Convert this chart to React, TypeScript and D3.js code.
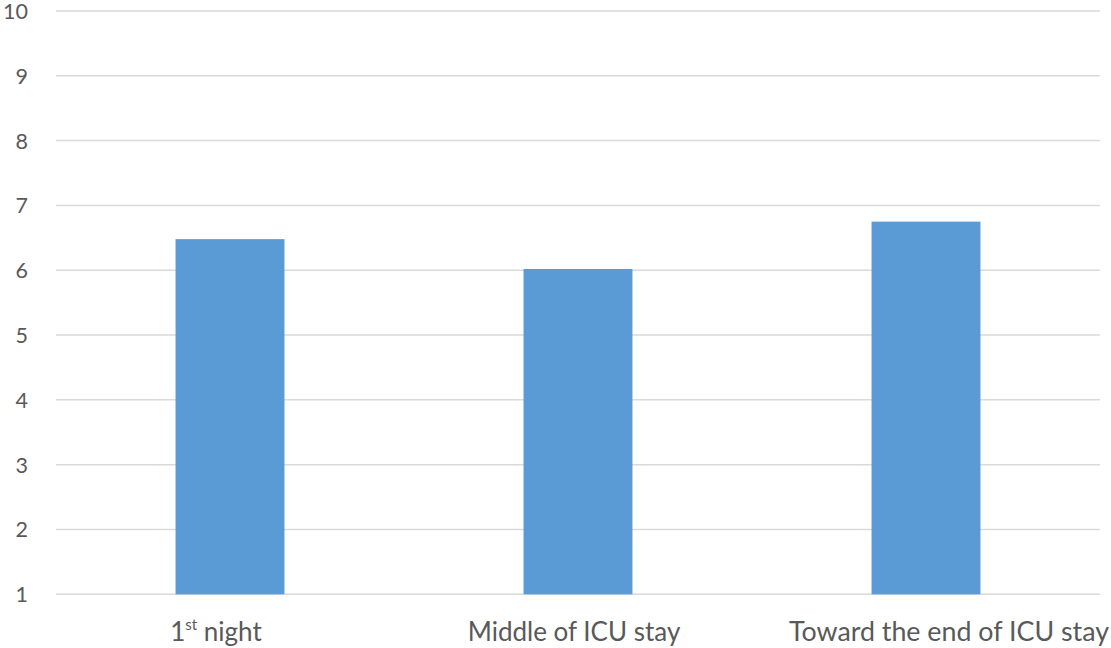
import React from "react";
import * as d3 from "d3";

const categories = ["1st night", "Middle of ICU stay", "Toward the end of ICU stay"];
const values = [6.48, 6.02, 6.75];
const yTicks = [1, 2, 3, 4, 5, 6, 7, 8, 9, 10];

const W = 1111;
const H = 648;
const plot = { left: 56, right: 1100, top: 11, bottom: 594.3 };

export default function App() {
  const x = d3
    .scaleBand<string>()
    .domain(categories)
    .range([plot.left, plot.right])
    .paddingInner(0.687)
    .paddingOuter(0.3435);
  const y = d3.scaleLinear().domain([1, 10]).range([plot.bottom, plot.top]);
  const font = "Lato, 'Open Sans', sans-serif";
  return (
    <svg
      width={W}
      height={H}
      style={{ position: "absolute", left: 0, top: 0, background: "#fff" }}
    >
      {yTicks.map((t) => (
        <g key={t}>
          <line
            x1={plot.left}
            x2={plot.right}
            y1={y(t)}
            y2={y(t)}
            stroke="#D9D9D9"
            strokeWidth={1.5}
          />
          <text
            x={28}
            y={y(t) + 8}
            textAnchor="end"
            fontFamily={font}
            fontSize={21.5}
            fill="#595959"
          >
            {t}
          </text>
        </g>
      ))}
      {categories.map((c, i) => (
        <rect
          key={c}
          x={x(c)}
          y={y(values[i])}
          width={x.bandwidth()}
          height={y(1) - y(values[i])}
          fill="#5B9BD5"
        />
      ))}
      {categories.map((c, i) => {
        const cx = (x(c) as number) + x.bandwidth() / 2;
        if (i === 0) {
          return (
            <text
              key={c}
              x={cx - 14}
              y={641}
              textAnchor="middle"
              fontFamily={font}
              fontSize={26}
              fill="#595959"
            >
              1<tspan fontSize={15} dy={-11}>st</tspan>
              <tspan dy={11}> night</tspan>
            </text>
          );
        }
        return (
          <text
            key={c}
            x={i === 2 ? W - 2 : cx - 4}
            y={641}
            textAnchor={i === 2 ? "end" : "middle"}
            fontFamily={font}
            fontSize={i === 2 ? 26.8 : 26}
            fill="#595959"
          >
            {c}
          </text>
        );
      })}
    </svg>
  );
}
